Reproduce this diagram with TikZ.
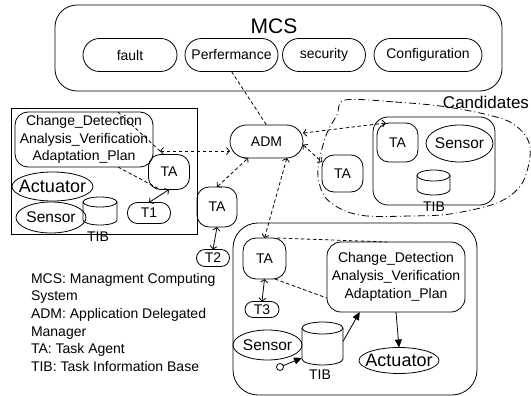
\documentclass[tikz,border=0pt]{standalone}
\usepackage{fontspec}
\setmainfont{Liberation Sans}
\usetikzlibrary{arrows.meta}
% drum-shaped data store: name, centre x, centre y, width, height, cap radius
\newcommand\drum[6]{%
  \node[minimum width=#4pt,minimum height=#5pt] (#1) at (#2,#3) {};
  \draw ([yshift=-#6pt]#1.north west) -- ([yshift=#6pt]#1.south west)
    arc[start angle=180,end angle=360,x radius={#4pt/2},y radius=#6pt]
    -- ([yshift=-#6pt]#1.north east);
  \draw ([yshift=-#6pt]#1.north) ellipse[x radius={#4pt/2},y radius=#6pt];
}
% labelled ellipse: name, centre x, centre y, width, height, label
\newcommand\blob[6]{%
  \node[minimum width=#4pt,minimum height=#5pt] (#1) at (#2,#3) {#6};
  \draw (#1.center) ellipse[x radius={#4pt/2},y radius={#5pt/2}];
}
\newcommand\actfont{\fontsize{18}{20}\selectfont}
\newcommand\senfont{\fontsize{15.5}{18}\selectfont}
\begin{document}
\begin{tikzpicture}[x=1pt,y=-1pt,
  every node/.style={inner sep=0pt,outer sep=0pt,font=\fontsize{14}{17.7}\selectfont},
  line width=0.8pt,
  rbox/.style={draw,rectangle,rounded corners=#1},
  rbox/.default=12pt,
  link/.style={dash pattern=on 3.5pt off 2.5pt},
  >={Straight Barb[length=3pt,width=7pt]},
  feed/.style={-{Triangle[length=8pt,width=7pt]}},
  hull/.style={dash pattern=on 7pt off 3pt on 1pt off 3pt},
]
\useasboundingbox (0,0) rectangle (531,396);

% --- Managment Computing System ---
\node[rbox=22pt,minimum width=447pt,minimum height=86pt] (mcs) at (278.5,48) {};
\node[font=\fontsize{21}{24}\selectfont] (mcslabel) at (274,26) {MCS};
\node[rbox=16.5pt,minimum width=94pt,minimum height=33pt] (fault) at (130,55) {fault};
\node[rbox=16.5pt,minimum width=93pt,minimum height=33pt] (perf) at (231.5,55) {Perfermance};
\node[rbox=16.5pt,minimum width=83pt,minimum height=33pt] (sec) at (324,55) {security};
\node[rbox=16.5pt,minimum width=108pt,minimum height=33pt] (conf) at (428,55) {Configuration};

% --- left application ---
\node[draw,minimum width=186pt,minimum height=126pt] (lbox) at (104,171) {};
\node[rbox=13pt,minimum width=138pt,minimum height=55pt,align=center] (lcd) at (84,139.5)
  {Change\_Detection\\Analysis\_Verification\\Adaptation\_Plan};
\blob{lact}{52.5}{186.5}{81}{29}{\actfont Actuator}
\blob{lsen}{51}{217.5}{70}{31}{\senfont Sensor}
\drum{ltib}{100}{211}{34}{28}{5}
\node (ltibl) at (98,237) {TIB};
\node[rbox=12pt,minimum width=41pt,minimum height=35pt] (lta) at (169,172) {TA};
\node[rbox=10pt,minimum width=43pt,minimum height=21pt] (t1) at (149,213) {T1};
\coordinate (lhub) at (160,151);

% --- delegated manager and its agent ---
\node[rbox=16.5pt,minimum width=73pt,minimum height=33pt] (adm) at (266.5,141.5) {ADM};
\node[rbox=12pt,minimum width=40pt,minimum height=40pt] (mta) at (217,207) {TA};
\node[rbox=8.5pt,minimum width=33pt,minimum height=17pt] (t2) at (213,258) {T2};

% --- candidates ---
\draw[hull] plot[smooth cycle,tension=0.55] coordinates {
  (345,100) (395,102) (440,106) (480,113) (510,122) (527,138) (530,157)
  (521,185) (497,203) (450,214) (410,216) (367,216) (343,210) (325,197)
  (318,177) (320,157) (327,133) (337,115)};
\node[font=\fontsize{17}{20}\selectfont] (candl) at (486,102) {Candidates};
\node[rbox=12pt,minimum width=41pt,minimum height=37pt] (cta) at (342.5,173.5) {TA};
\node[rbox=15pt,minimum width=122pt,minimum height=88pt] (cbox) at (434,161) {};
\node[rbox=12pt,minimum width=41pt,minimum height=39pt] (cta2) at (397.5,142.5) {TA};
\blob{csen}{459.5}{143.5}{67}{37}{\senfont Sensor}
\drum{ctib}{433.5}{182.5}{33}{25}{5.5}
\node (ctibl) at (434,207) {TIB};

% --- lower application ---
\node[rbox=25pt,minimum width=244pt,minimum height=172pt] (bbox) at (355,309) {};
\node[rbox=13pt,minimum width=43pt,minimum height=41pt] (bta) at (264.5,258.5) {TA};
\node[rbox=8pt,minimum width=34pt,minimum height=16pt] (t3) at (262,309.5) {T3};
\node[rbox=14pt,minimum width=138pt,minimum height=70pt,align=center] (bcd) at (396,277)
  {Change\_Detection\\Analysis\_Verification\\Adaptation\_Plan};
\blob{bsen}{267.5}{345}{69}{30}{\senfont Sensor}
\drum{btib}{322.5}{343.5}{41}{43}{6}
\node (btibl) at (320,375) {TIB};
\blob{bact}{399}{360.5}{80}{26}{\actfont Actuator}
\node[draw,circle,fill=white,minimum size=7pt] (bdot) at (280,367) {};

% --- legend ---
\node[anchor=north west,align=left] (legend) at (31,273)
  {MCS: Managment Computing\\System\\ADM: Application Delegated\\Manager\\TA: Task Agent\\TIB: Task Information Base};

% --- connectors ---
\draw[link] (perf.south) -- (adm.north);
\draw[link] (lcd.39) -- (lhub);
\draw[link,<->] (lhub) -- (adm.west |- lhub);
\draw[link] (lcd.-39) -- (lta.243);
\draw[<->] (t1.north) -- (lta.south);
\draw[link,<->] (mta.north) -- (adm.222);
\draw[<->] (mta.south) -- (t2.north);
\draw[link,<->] (adm.-39) -- (bta.north);
\draw[link,<->] (adm.13) -- (cta2.121);
\draw[link,<->] (adm.-5) -- (cta.151);
\draw[link] (bta.59) -- (bcd.104);
\draw[link] (bta.-63) -- (bcd.197);
\draw[<->] (bta.south) -- (t3.north);
\draw[feed] ([yshift=2pt]btib.east) -- (bcd.224);
\draw[feed] (bcd.south) -- (bact.north);
\draw[feed] (bdot) -- (btib.215);
\end{tikzpicture}
\end{document}
